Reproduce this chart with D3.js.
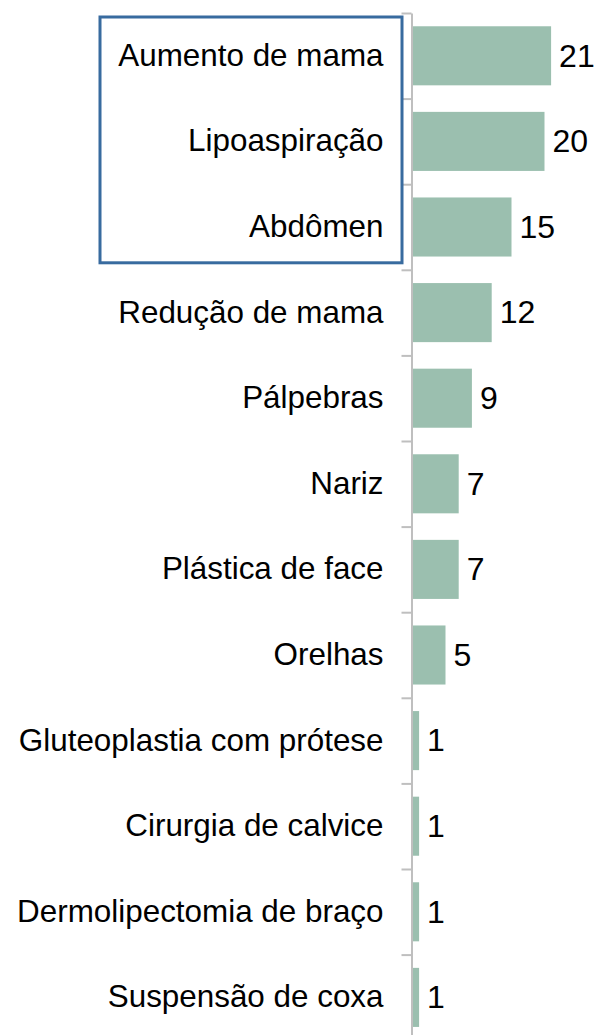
<!DOCTYPE html>
<html>
<head>
<meta charset="utf-8">
<script src="https://cdn.jsdelivr.net/npm/d3@7"></script>
<style>
  body { margin: 0; background: #fff; }
  svg text { font-family: "Liberation Sans", Arial, sans-serif; fill: #000; }
</style>
</head>
<body>
<script>
// Procedures and counts
const categories = [
  "Aumento de mama", "Lipoaspiração", "Abdômen", "Redução de mama",
  "Pálpebras", "Nariz", "Plástica de face", "Orelhas",
  "Gluteoplastia com prótese", "Cirurgia de calvice",
  "Dermolipectomia de braço", "Suspensão de coxa"
];
const values = [21, 20, 15, 12, 9, 7, 7, 5, 1, 1, 1, 1];
const highlighted = ["Aumento de mama", "Lipoaspiração", "Abdômen"];

const width = 597, height = 1035;
const axisX = 411.5, plotTop = 13, step = 85.6;

const svg = d3.select("body").append("svg")
    .attr("width", width)
    .attr("height", height);

// band scale for the bars
const y = d3.scaleBand()
    .domain(categories)
    .range([plotTop, plotTop + step * categories.length])
    .paddingInner(0.31)
    .paddingOuter(0.155);

// linear scale over category index, for the boundary ticks
const yIdx = d3.scaleLinear()
    .domain([0, categories.length])
    .range([plotTop, plotTop + step * categories.length]);

const x = d3.scaleLinear()
    .domain([0, 21])
    .range([axisX + 1, axisX + 1 + 21 * 6.6]);

// bars
svg.selectAll(".bar")
    .data(categories)
    .enter().append("rect")
    .attr("class", "bar")
    .attr("x", x(0))
    .attr("y", d => y(d))
    .attr("width", (d, i) => x(values[i]) - x(0))
    .attr("height", y.bandwidth())
    .attr("fill", "#9bbfaf");

// axis with ticks at category boundaries
const axis = svg.append("g")
    .attr("transform", `translate(${axisX},0)`)
    .call(d3.axisLeft(yIdx)
        .tickValues(d3.range(categories.length + 1))
        .tickFormat("")
        .tickSize(10)
        .tickSizeOuter(0));
axis.selectAll("line, path")
    .attr("stroke", "#bfbfbf")
    .attr("stroke-width", 2);

// category labels
const labels = svg.append("g")
    .attr("transform", `translate(${axisX},0)`)
    .call(d3.axisLeft(y).tickSize(0).tickPadding(28));
labels.select(".domain").remove();
labels.selectAll("text")
    .attr("font-size", 31.4)
    .attr("font-family", "Liberation Sans, Arial, sans-serif")
    .attr("fill", "#000")
    .attr("dy", "0.32em");

// value labels
svg.selectAll(".value")
    .data(categories)
    .enter().append("text")
    .attr("class", "value")
    .attr("x", (d, i) => x(values[i]) + 8)
    .attr("y", d => y(d) + y.bandwidth() / 2)
    .attr("dy", "0.34em")
    .attr("font-size", 32)
    .text((d, i) => values[i]);

// highlight box around the top three
const first = highlighted[0], last = highlighted[highlighted.length - 1];
const boxTop = y(first) - y.step() * y.paddingOuter() + 4;
const boxBottom = y(last) + y.bandwidth() + y.step() * y.paddingOuter() - 7;
svg.append("rect")
    .attr("x", 100)
    .attr("y", boxTop)
    .attr("width", 302)
    .attr("height", boxBottom - boxTop)
    .attr("fill", "none")
    .attr("stroke", "#386b9f")
    .attr("stroke-width", 3);
</script>
</body>
</html>
